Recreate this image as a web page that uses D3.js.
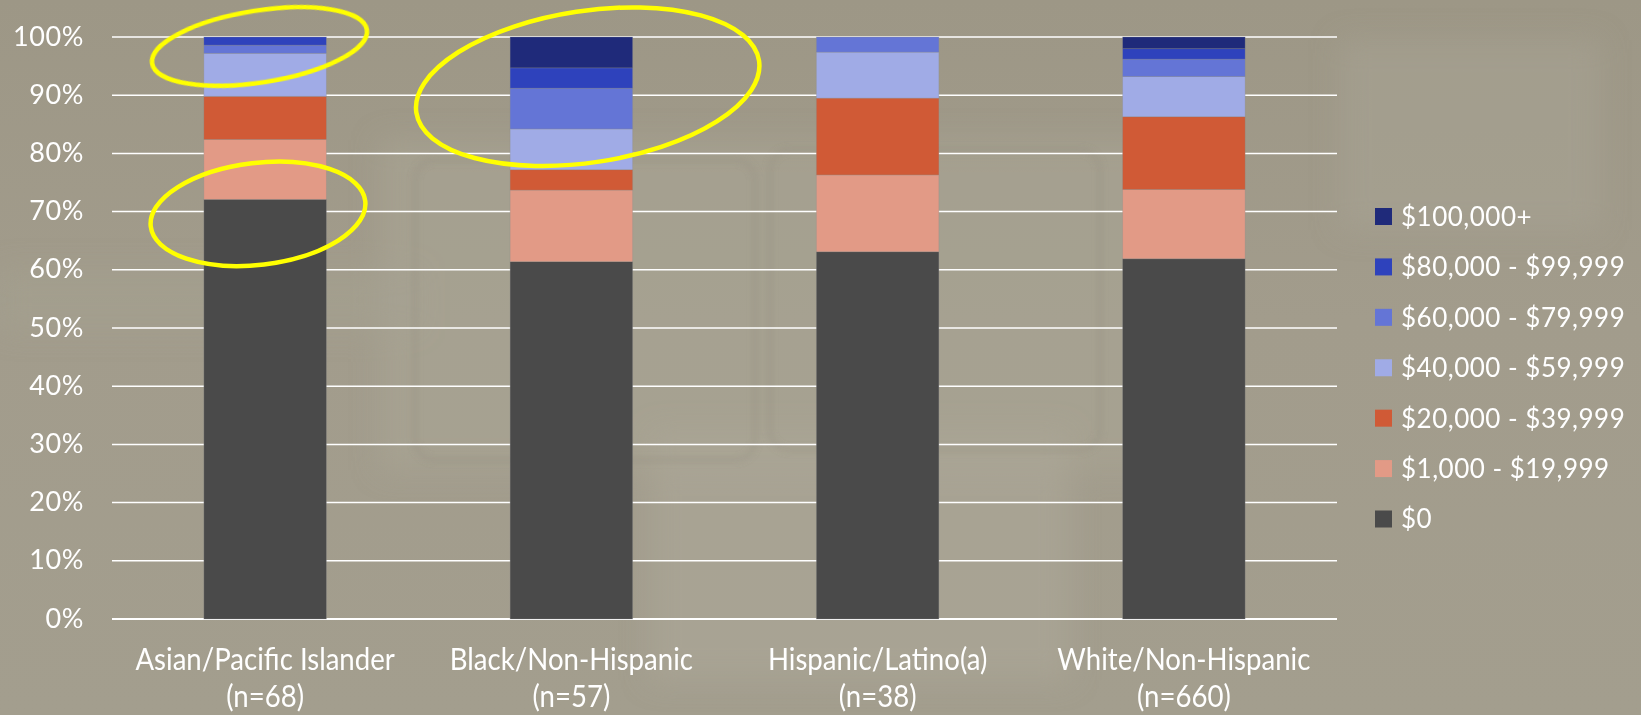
<!DOCTYPE html>
<html>
<head>
<meta charset="utf-8">
<script src="https://cdn.jsdelivr.net/npm/d3@7"></script>
<style>
  html, body { margin: 0; padding: 0; background: #a09a8a; overflow: hidden; }
  svg { display: block; }
</style>
</head>
<body>
<svg id="chart" width="1641" height="715"></svg>
<script>
// Groups on the x axis and their sample sizes
const groups = ["Asian/Pacific Islander", "Black/Non-Hispanic", "Hispanic/Latino(a)", "White/Non-Hispanic"];
const groupSizes = ["(n=68)", "(n=57)", "(n=38)", "(n=660)"];

// Income brackets, stacked bottom to top
const brackets = ["$0", "$1,000 - $19,999", "$20,000 - $39,999", "$40,000 - $59,999",
                  "$60,000 - $79,999", "$80,000 - $99,999", "$100,000+"];

// Percent of each group falling in each bracket
const share0    = [72.1, 61.4, 63.1, 61.9];
const share1k   = [10.3, 12.3, 13.2, 11.9];
const share20k  = [7.4, 3.5, 13.2, 12.5];
const share40k  = [7.4, 7.0, 7.9, 6.9];
const share60k  = [1.4, 7.0, 2.6, 3.0];
const share80k  = [1.4, 3.5, 0.0, 1.8];
const share100k = [0.0, 5.3, 0.0, 2.0];

const yTicks = [0, 10, 20, 30, 40, 50, 60, 70, 80, 90, 100];

const bracketColors = ["#4a4a4a", "#e29a86", "#d05a36", "#a0abe6", "#6475d6", "#2e42bc", "#1f2a7a"];

const seriesValues = [share0, share1k, share20k, share40k, share60k, share80k, share100k];
const rows = groups.map((g, i) => {
  const r = { group: g };
  brackets.forEach((b, j) => { r[b] = seriesValues[j][i]; });
  return r;
});

const svg = d3.select("#chart");
const W = 1641, H = 715;
const FONT = "Lato, 'Open Sans', sans-serif";

// ---- backdrop: muted photo-like wash ----
const defs = svg.append("defs");
const bg = defs.append("linearGradient").attr("id", "bgGrad")
  .attr("x1", 0).attr("y1", 0).attr("x2", 0).attr("y2", 1);
bg.append("stop").attr("offset", "0%").attr("stop-color", "#9d9786");
bg.append("stop").attr("offset", "45%").attr("stop-color", "#a29c8c");
bg.append("stop").attr("offset", "100%").attr("stop-color", "#a39e8e");
defs.append("filter").attr("id", "soft").attr("x", "-20%").attr("y", "-20%")
  .attr("width", "140%").attr("height", "140%")
  .append("feGaussianBlur").attr("stdDeviation", 14);
defs.append("filter").attr("id", "softer")
  .append("feGaussianBlur").attr("stdDeviation", 3);

svg.append("rect").attr("width", W).attr("height", H).attr("fill", "url(#bgGrad)");

const haze = svg.append("g").attr("filter", "url(#soft)");
haze.append("rect").attr("x", 380).attr("y", 140).attr("width", 820).attr("height", 330)
  .attr("fill", "#aaa595").attr("opacity", 0.55);
haze.append("rect").attr("x", 650).attr("y", 430).attr("width", 420).attr("height", 250)
  .attr("fill", "#aca797").attr("opacity", 0.6);
haze.append("rect").attr("x", 1340).attr("y", 40).attr("width", 260).attr("height", 190)
  .attr("fill", "#a8a393").attr("opacity", 0.5);
haze.append("rect").attr("x", 0).attr("y", 270).attr("width", 420).attr("height", 60)
  .attr("fill", "#a6a191").attr("opacity", 0.5);

// faint tile outlines in the backdrop
const tiles = svg.append("g").attr("filter", "url(#softer)")
  .attr("fill", "none").attr("stroke", "#8f897a").attr("stroke-opacity", 0.3).attr("stroke-width", 4);
tiles.append("rect").attr("x", 415).attr("y", 160).attr("width", 340).attr("height", 300).attr("rx", 20);
tiles.append("rect").attr("x", 770).attr("y", 150).attr("width", 330).attr("height", 300).attr("rx", 20);

// ---- scales ----
const x = d3.scaleBand().domain(groups).range([112, 1337]).paddingInner(0.6).paddingOuter(0.3);
const y = d3.scaleLinear().domain([0, 100]).range([619, 37]);

// ---- gridlines ----
svg.append("g").selectAll("line").data(yTicks).join("line")
  .attr("x1", 112).attr("x2", 1337)
  .attr("y1", d => y(d)).attr("y2", d => y(d))
  .attr("stroke", "#ffffff").attr("stroke-width", d => d === 0 ? 2 : 1.5);

// ---- y axis labels ----
const yAxis = d3.axisLeft(y).tickValues(yTicks).tickFormat(d => d + "%").tickSize(0).tickPadding(0);
const yg = svg.append("g").attr("transform", "translate(84,0)").call(yAxis);
yg.select(".domain").remove();
yg.selectAll("text")
  .attr("fill", "#ffffff")
  .attr("font-family", FONT)
  .attr("font-size", 27)
  .attr("letter-spacing", 0.6)
  .attr("dy", "0.3em");

// ---- stacked bars ----
const stacked = d3.stack().keys(brackets)(rows);
svg.append("g").selectAll("g").data(stacked).join("g")
  .attr("fill", (d, i) => bracketColors[i])
  .selectAll("rect").data(d => d).join("rect")
  .attr("x", d => x(d.data.group))
  .attr("width", x.bandwidth())
  .attr("y", d => y(d[1]))
  .attr("height", d => y(d[0]) - y(d[1]))
  .attr("stroke", "#8c8c8c").attr("stroke-opacity", 0.35).attr("stroke-width", 0.8);

// ---- x axis labels (slightly condensed) ----
const xAxis = d3.axisBottom(x).tickSize(0).tickPadding(0).tickFormat(() => "");
const xg = svg.append("g").attr("transform", "translate(0,619)").call(xAxis);
xg.select(".domain").remove();
xg.selectAll(".tick").each(function (d, i) {
  const t = d3.select(this).append("text")
    .attr("fill", "#ffffff")
    .attr("font-family", FONT)
    .attr("font-size", 30)
    .attr("transform", "scale(0.92,1)")
    .attr("text-anchor", "middle");
  t.append("tspan").attr("x", 0).attr("y", 51).text(d);
  t.append("tspan").attr("x", 0).attr("y", 88).text(groupSizes[i]);
});

// ---- legend (top bracket first) ----
const legend = svg.append("g").attr("transform", "translate(1375,0)");
const legendOrder = brackets.slice().reverse();
const ly = d3.scalePoint().domain(legendOrder).range([216.5, 519]);
const item = legend.selectAll("g").data(legendOrder).join("g")
  .attr("transform", d => `translate(0,${ly(d)})`);
item.append("rect").attr("x", 0).attr("y", -8.5).attr("width", 17).attr("height", 17)
  .attr("fill", d => bracketColors[brackets.indexOf(d)]);
item.append("text").attr("x", 26).attr("y", 0).attr("dy", "0.36em")
  .attr("fill", "#ffffff")
  .attr("font-family", FONT)
  .attr("font-size", 26)
  .attr("letter-spacing", 0.5)
  .text(d => d);

// ---- highlight rings ----
const rings = [
  { cx: 259.5, cy: 46.5, rx: 108.7, ry: 36, angle: -8.9 },
  { cx: 258, cy: 213.8, rx: 108, ry: 51, angle: -6.8 },
  { cx: 587.7, cy: 86.7, rx: 173.3, ry: 75.8, angle: -8.6 }
];
svg.append("g").selectAll("ellipse").data(rings).join("ellipse")
  .attr("cx", 0).attr("cy", 0)
  .attr("rx", d => d.rx).attr("ry", d => d.ry)
  .attr("transform", d => `translate(${d.cx},${d.cy}) rotate(${d.angle})`)
  .attr("fill", "none").attr("stroke", "#ffff00").attr("stroke-width", 4.5);
</script>
</body>
</html>
